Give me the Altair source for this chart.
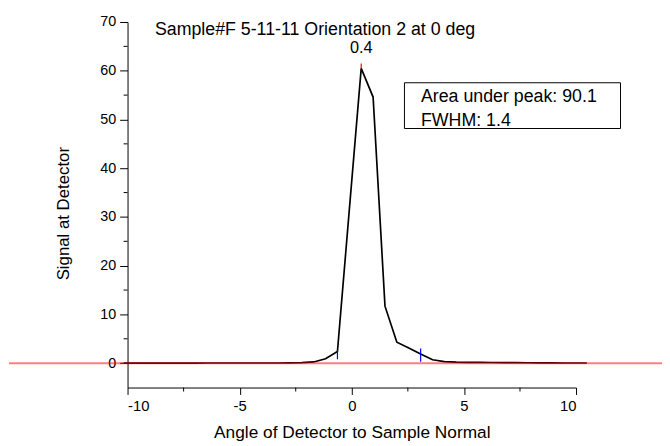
import altair as alt
import pandas as pd

# ---- data ----
angles = [-10.17, -9.64, -9.11, -8.59, -8.05, -7.52, -6.99, -6.46, -5.93, -5.40,
          -4.87, -4.35, -3.82, -3.29, -2.76, -2.23, -1.70, -1.17, -0.64, -0.11,
          0.42, 0.95, 1.48, 2.01, 2.54, 3.07, 3.60, 4.13, 4.66, 5.19,
          5.72, 6.24, 6.77, 7.30, 7.83, 8.36, 8.89, 9.42, 9.95, 10.48]
signal = [0.02, 0.02, 0.02, 0.02, 0.02, 0.02, 0.02, 0.03, 0.03, 0.03,
          0.03, 0.03, 0.04, 0.04, 0.05, 0.1, 0.25, 0.9, 2.4, 31.5,
          60.5, 54.6, 11.7, 4.3, 3.1, 1.9, 0.7, 0.3, 0.2, 0.17,
          0.15, 0.13, 0.12, 0.1, 0.08, 0.06, 0.05, 0.04, 0.03, 0.03]

x_major = [-10, -5, 0, 5, 10]
x_minor = [-7.5, -2.5, 2.5, 7.5]
y_major = [0, 10, 20, 30, 40, 50, 60, 70]
y_minor = [5, 15, 25, 35, 45, 55, 65]

peak_x = [0.42]
peak_y = [60.5]
peak_top = [61.5]
peak_label = ["0.4"]

limit_x = [-0.64, 3.07]
limit_lo = [0.8, 0.3]
limit_hi = [2.6, 3.0]

baseline_y = [0]

title_text = "Sample#F 5-11-11 Orientation 2 at 0 deg"
box_text = "Area under peak: 90.1\nFWHM: 1.4"
x_title = "Angle of Detector to Sample Normal"
y_title = "Signal at Detector"

FONT = "Liberation Sans"

# ---- chart ----
df = pd.DataFrame({"angle": angles, "signal": signal})
xs = alt.Scale(domain=[-10, 10], nice=False, zero=False)
ys = alt.Scale(domain=[-5, 70], nice=False, zero=False)

x_axis = alt.Axis(values=x_major, title=x_title, labelExpr="datum.value + ''",
                  labelFontSize=15, labelPadding=4, tickSize=7,
                  titleFontSize=17.5, titleFontWeight="normal",
                  titleX=227, titleY=51, titleBaseline="alphabetic")
y_axis = alt.Axis(values=y_major, title=y_title, labelFontSize=14.5,
                  labelPadding=4, tickSize=8,
                  titleFontSize=17, titleFontWeight="normal",
                  titleAngle=270, titleX=-59.5, titleY=193.5,
                  titleAlign="center", titleBaseline="alphabetic")


def X():
    return alt.X("angle:Q", scale=xs, axis=x_axis)


def Y():
    return alt.Y("signal:Q", scale=ys, axis=y_axis)


line = alt.Chart(df).mark_line(color="black", strokeWidth=1.7, clip=False).encode(
    x=X(), y=Y())

xminor = alt.Chart(pd.DataFrame({"angle": x_minor})).mark_rule(
    color="black", strokeWidth=1, clip=False).encode(
    x=X(), y=alt.value(370), y2=alt.value(374))

yminor = alt.Chart(pd.DataFrame({"signal": y_minor})).mark_rule(
    color="black", strokeWidth=1, clip=False).encode(
    y=Y(), x=alt.value(-4), x2=alt.value(0))

limits = alt.Chart(pd.DataFrame({"angle": limit_x, "signal": limit_lo, "hi": limit_hi})).mark_rule(
    color="#0000ff", strokeWidth=1.2, clip=False).encode(
    x=X(), y=Y(), y2="hi:Q")

peak_tick = alt.Chart(pd.DataFrame({"angle": peak_x, "signal": peak_y, "hi": peak_top})).mark_rule(
    color="red", strokeWidth=1.2, clip=False).encode(
    x=X(), y=Y(), y2="hi:Q")

peak_text = alt.Chart(pd.DataFrame({"angle": peak_x, "signal": peak_y, "t": peak_label})).mark_text(
    font=FONT, fontSize=16.5, color="black", baseline="alphabetic", align="center", dy=-15).encode(
    x=X(), y=Y(), text="t:N")

base_rule = alt.Chart(pd.DataFrame({"signal": baseline_y})).mark_rule(
    color="red", opacity=0.5, strokeWidth=2, clip=False).encode(
    y=Y(), x=alt.value(-120), x2=alt.value(541))

title = alt.Chart(pd.DataFrame({"t": [title_text]})).mark_text(
    font=FONT, fontSize=18, color="black", align="left", baseline="alphabetic").encode(
    text="t:N", x=alt.value(27.7), y=alt.value(12.8))

box = alt.Chart(pd.DataFrame({"t": [box_text]})).mark_rect(
    fill="white", stroke="black", strokeWidth=1).encode(
    x=alt.value(280.3), x2=alt.value(499), y=alt.value(61.5), y2=alt.value(107.8))

box_label = alt.Chart(pd.DataFrame({"t": [box_text]})).mark_text(
    font=FONT, fontSize=18, color="black", align="left", baseline="alphabetic",
    lineBreak="\n", lineHeight=24).encode(
    text="t:N", x=alt.value(297), y=alt.value(81.2))

chart = alt.layer(
    line, xminor, yminor, limits, peak_tick, peak_text, base_rule, title, box, box_label
).properties(
    width=454, height=370,
    autosize="none",
    padding={"left": 121, "top": 11.5, "right": 87, "bottom": 56},
    background="white",
).configure_view(stroke=None).configure_axis(
    grid=False, domainColor="black", tickColor="black", labelColor="black",
    titleColor="black", labelFont=FONT, titleFont=FONT, domainWidth=1, tickWidth=1,
)

chart.save("out.html", embed_options={"renderer": "svg", "actions": False})
